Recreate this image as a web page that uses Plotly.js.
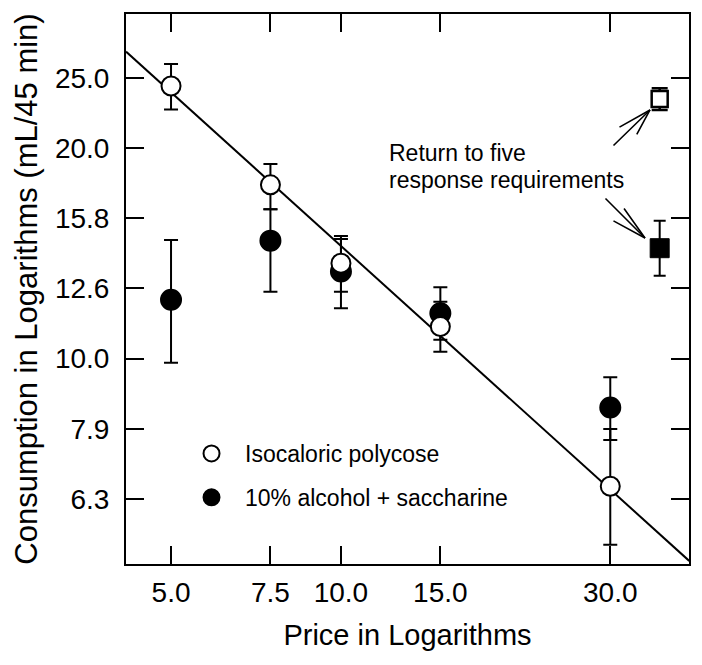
<!DOCTYPE html>
<html>
<head>
<meta charset="utf-8">
<script src="https://cdn.plot.ly/plotly-3.0.1.min.js"></script>
<style>html,body{margin:0;padding:0;background:#fff;}#chart{width:702px;height:665px;}</style>
</head>
<body>
<div id="chart"></div>
<script>
// Price (log axis)
var prices = [5, 7.5, 10, 15, 30];
var xTickVals = [5, 7.5, 10, 15, 30];
var xTickText = ["5.0", "7.5", "10.0", "15.0", "30.0"];
var yTickVals = [6.31, 7.94, 10.0, 12.59, 15.85, 19.95, 25.12];
var yTickText = ["6.3", "7.9", "10.0", "12.6", "15.8", "20.0", "25.0"];

// Isocaloric polycose (open circles)
var polycose = [24.47, 17.69, 13.68, 11.11, 6.58];
var polycosePlus = [1.83, 1.26, 1.28, 0.94, 1.36];
var polycoseMinus = [1.81, 1.36, 1.22, 0.88, 1.15];

// 10% alcohol + saccharine (filled circles)
var alcohol = [12.13, 14.73, 13.31, 11.61, 8.52];
var alcoholPlus = [2.63, 1.60, 1.50, 1.03, 0.89];
var alcoholMinus = [2.26, 2.27, 1.51, 0.97, 0.86];

// Return to five response requirements (squares)
var returnX = [36.7];
var returnPolycose = [23.45];
var returnPolycosePlus = [0.84];
var returnPolycoseMinus = [0.84];
var returnAlcohol = [14.37];
var returnAlcoholPlus = [1.36];
var returnAlcoholMinus = [1.24];

// Fitted line endpoints
var lineX = [4.16, 41.4];
var lineY = [27.4, 5.15];

var FONT = "Liberation Sans, Arial, Helvetica, sans-serif";

var traces = [
  {
    x: lineX, y: lineY, mode: "lines", type: "scatter",
    line: {color: "#000", width: 2}, showlegend: false, hoverinfo: "skip"
  },
  {
    x: prices, y: alcohol, mode: "markers", type: "scatter",
    name: "10% alcohol + saccharine", legendgroup: "b", legendrank: 2,
    marker: {symbol: "circle", size: 20, color: "#000", line: {color: "#000", width: 2}},
    error_y: {type: "data", symmetric: false, array: alcoholPlus, arrayminus: alcoholMinus,
              color: "#000", thickness: 2, width: 7}
  },
  {
    x: prices, y: polycose, mode: "markers", type: "scatter",
    name: "Isocaloric polycose", legendgroup: "a", legendrank: 1,
    marker: {symbol: "circle", size: 19, color: "#fff", line: {color: "#000", width: 2}},
    error_y: {type: "data", symmetric: false, array: polycosePlus, arrayminus: polycoseMinus,
              color: "#000", thickness: 2, width: 7}
  },
  {
    x: returnX, y: returnAlcohol, mode: "markers", type: "scatter", showlegend: false,
    marker: {symbol: "square", size: 19, color: "#000", line: {color: "#000", width: 1}},
    error_y: {type: "data", symmetric: false, array: returnAlcoholPlus, arrayminus: returnAlcoholMinus,
              color: "#000", thickness: 2, width: 6}
  },
  {
    x: returnX, y: returnPolycose, mode: "markers", type: "scatter", showlegend: false,
    marker: {symbol: "square", size: 16, color: "#fff", line: {color: "#000", width: 2.5}},
    error_y: {type: "data", symmetric: false, array: returnPolycosePlus, arrayminus: returnPolycoseMinus,
              color: "#000", thickness: 2.5, width: 8}
  }
];

var axisCommon = {
  showline: true, linewidth: 2, linecolor: "#000", mirror: "ticks",
  ticks: "inside", ticklen: 18, tickwidth: 2, tickcolor: "#000",
  showgrid: false, zeroline: false,
  tickfont: {family: FONT, size: 28, color: "#000"}
};

// arrow lines (shaft + two barbs) in pixel offsets from the tip
function arrowLine(x, y, ax, ay) {
  return {xref: "paper", yref: "paper", x: x, y: y, text: "", showarrow: true,
          ax: ax, ay: ay, arrowhead: 0, arrowwidth: 1.6, arrowcolor: "#000", standoff: 0};
}

var layout = {
  width: 702, height: 665,
  margin: {l: 126, r: 13, t: 14, b: 101, pad: 0},
  paper_bgcolor: "#fff", plot_bgcolor: "#fff",
  font: {family: FONT, color: "#000"},
  xaxis: Object.assign({}, axisCommon, {
    type: "log", range: [0.6192, 1.6166],
    tickmode: "array", tickvals: xTickVals, ticktext: xTickText,
    ticklabelstandoff: 2,
    title: {text: "Price in Logarithms", font: {family: FONT, size: 29, color: "#000"}, standoff: 18}
  }),
  yaxis: Object.assign({}, axisCommon, {
    type: "log", range: [0.7074, 1.4912],
    tickmode: "array", tickvals: yTickVals, ticktext: yTickText,
    ticklabelstandoff: 9,
    title: {text: "Consumption in Logarithms (mL/45 min)", font: {family: FONT, size: 31, color: "#000"}, standoff: 8}
  }),
  showlegend: true,
  legend: {
    x: 0.0924, y: 0.2400, xanchor: "left", yanchor: "top",
    bgcolor: "rgba(0,0,0,0)", borderwidth: 0,
    traceorder: "grouped", tracegroupgap: 11, itemwidth: 57,
    font: {family: FONT, size: 23, color: "#000"}
  },
  annotations: [
    {xref: "paper", yref: "paper", x: 0.463, y: 0.7464, xanchor: "left", yanchor: "middle",
     text: "Return to five", showarrow: false, font: {family: FONT, size: 23, color: "#000"}},
    {xref: "paper", yref: "paper", x: 0.463, y: 0.6985, xanchor: "left", yanchor: "middle",
     text: "response requirements", showarrow: false, font: {family: FONT, size: 23, color: "#000"}},
    arrowLine(0.9307, 0.8255, -38, 37),
    arrowLine(0.9307, 0.8255, -32, 18),
    arrowLine(0.9307, 0.8255, -14, 26),
    arrowLine(0.9218, 0.5927, -41, -41),
    arrowLine(0.9218, 0.5927, -33, -18),
    arrowLine(0.9218, 0.5927, -22, -31)
  ]
};

Plotly.newPlot("chart", traces, layout, {staticPlot: true, displayModeBar: false});
</script>
</body>
</html>
